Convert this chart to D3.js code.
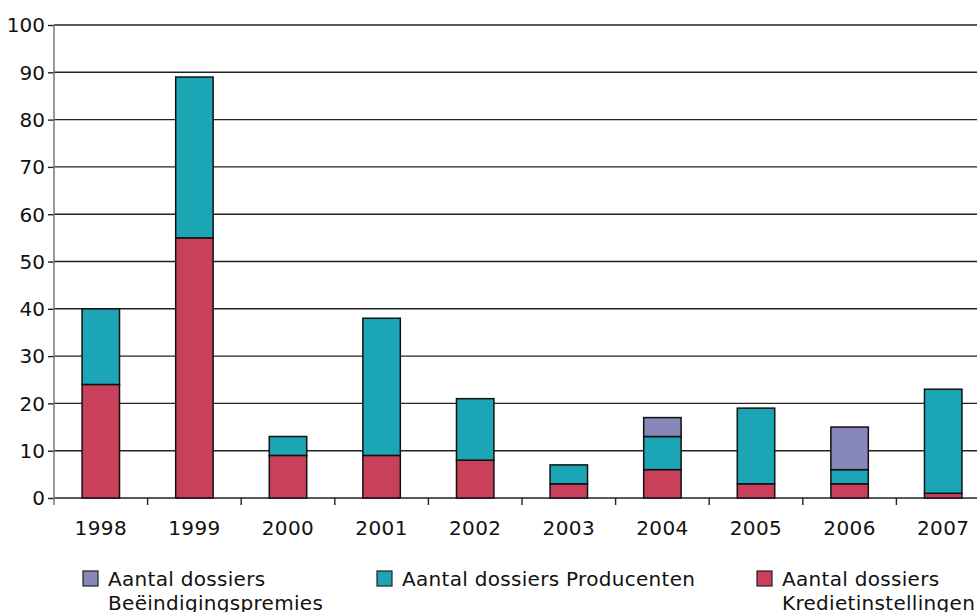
<!DOCTYPE html>
<html>
<head>
<meta charset="utf-8">
<script src="https://cdn.jsdelivr.net/npm/d3@7"></script>
<style>
  html, body { margin: 0; padding: 0; background: #fff; }
  svg { display: block; font-family: "DejaVu Sans", sans-serif; }
</style>
</head>
<body>
<svg id="chart" width="977" height="612"></svg>
<script>
const years = ["1998","1999","2000","2001","2002","2003","2004","2005","2006","2007"];
const kredietinstellingen = [24, 55, 9, 9, 8, 3, 6, 3, 3, 1];
const producenten = [16, 34, 4, 29, 13, 4, 7, 16, 3, 22];
const beeindigingspremies = [0, 0, 0, 0, 0, 0, 4, 0, 9, 0];
const yTicks = [0, 10, 20, 30, 40, 50, 60, 70, 80, 90, 100];
const seriesKeys = ["krediet", "producenten", "beeindiging"];
const seriesColors = {krediet: "#C8405A", producenten: "#1CA5B5", beeindiging: "#8787BA"};
const legendLabels = [
  {key: "beeindiging", lines: ["Aantal dossiers", "Beëindigingspremies"]},
  {key: "producenten", lines: ["Aantal dossiers Producenten"]},
  {key: "krediet", lines: ["Aantal dossiers", "Kredietinstellingen"]}
];

(function () {
const table = years.map((yr, i) => ({
  year: yr,
  krediet: kredietinstellingen[i],
  producenten: producenten[i],
  beeindiging: beeindigingspremies[i]
}));

const svg = d3.select("#chart");
const mLeft = 54, mTop = 25, mBottom = 498, plotRight = 990, clipRight = 977;

const x = d3.scaleBand().domain(years).range([mLeft, plotRight]).paddingInner(0.6).paddingOuter(0.3);
const y = d3.scaleLinear().domain([0, 100]).range([mBottom, mTop]);

// gridlines
svg.append("g").selectAll("line").data(yTicks).join("line")
  .attr("x1", mLeft).attr("x2", clipRight)
  .attr("y1", d => y(d)).attr("y2", d => y(d))
  .attr("stroke", "#222").attr("stroke-width", 1.4);

// y axis
const yAxis = svg.append("g").attr("transform", `translate(${mLeft},0)`)
  .call(d3.axisLeft(y).tickValues(yTicks).tickSize(6).tickPadding(4));
yAxis.select(".domain").remove();
yAxis.selectAll(".tick line").attr("stroke", "#222").attr("stroke-width", 1.4);
yAxis.selectAll(".tick text").attr("font-size", 20).attr("font-family", "DejaVu Sans").attr("fill", "#111").attr("dy", "0.34em").attr("x", -9);
svg.append("line").attr("x1", mLeft).attr("x2", mLeft).attr("y1", mTop).attr("y2", mBottom + 7)
  .attr("stroke", "#777").attr("stroke-width", 1.5);

// x axis ticks at band boundaries
const step = x.step();
const boundaries = years.map((d, i) => mLeft + i * step).slice(1);
svg.append("g").selectAll("line").data(boundaries).join("line")
  .attr("x1", d => d).attr("x2", d => d).attr("y1", mBottom).attr("y2", mBottom + 7)
  .attr("stroke", "#222").attr("stroke-width", 1.4);
svg.append("g").selectAll("text").data(years).join("text")
  .attr("x", d => x(d) + x.bandwidth() / 2).attr("y", 535)
  .attr("text-anchor", "middle").attr("font-size", 20).attr("fill", "#111")
  .attr("letter-spacing", 0.4)
  .text(d => d);

// stacked bars
const stack = d3.stack().keys(seriesKeys);
const stacked = stack(table);
svg.append("g").selectAll("g").data(stacked).join("g")
  .attr("fill", d => seriesColors[d.key])
  .selectAll("rect").data(d => d.filter(p => p[1] - p[0] > 0)).join("rect")
  .attr("x", d => x(d.data.year))
  .attr("width", x.bandwidth())
  .attr("y", d => y(d[1]))
  .attr("height", d => y(d[0]) - y(d[1]))
  .attr("stroke", "#111").attr("stroke-width", 1.5);

// legend
const legendX = [83, 377, 757];
const lg = svg.append("g").selectAll("g").data(legendLabels).join("g")
  .attr("transform", (d, i) => `translate(${legendX[i]},571)`);
lg.append("rect").attr("width", 15).attr("height", 15)
  .attr("fill", d => seriesColors[d.key]).attr("stroke", "#222").attr("stroke-width", 1.2);
lg.append("text").attr("font-size", 20).attr("fill", "#111").attr("letter-spacing", 0.3)
  .selectAll("tspan").data(d => d.lines).join("tspan")
  .attr("x", 25).attr("y", (d, i) => 15 + i * 24)
  .text(d => d);
})();
</script>
</body>
</html>
